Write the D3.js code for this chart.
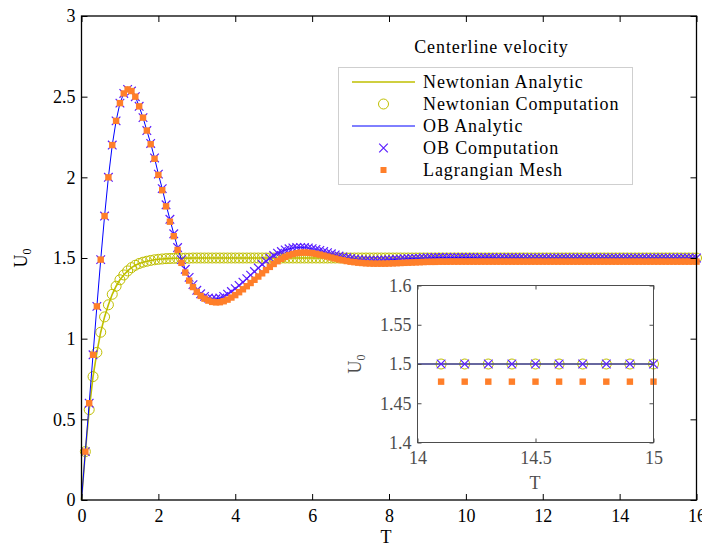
<!DOCTYPE html>
<html>
<head>
<meta charset="utf-8">
<script src="https://cdn.jsdelivr.net/npm/d3@7"></script>
<style>
  html, body { margin: 0; padding: 0; background: #fff; }
  svg { display: block; font-family: "Liberation Serif", serif; }
</style>
</head>
<body>
<svg id="chart" width="702" height="546"></svg>
<script>
// sample times of the computed runs, T = 0.1 ... 16.0
let tSamples = d3.range(1, 161).map(i => i / 10);

// centerline velocity (one row = 1 time unit)
let newtonian = [
  0.30, 0.56, 0.765, 0.915, 1.04, 1.135, 1.21, 1.275, 1.325, 1.365,
  1.395, 1.42, 1.44, 1.455, 1.466, 1.474, 1.48, 1.485, 1.489, 1.492,
  1.494, 1.496, 1.497, 1.498, 1.498, 1.499, 1.499, 1.499, 1.5, 1.5,
  1.5, 1.5, 1.5, 1.5, 1.5, 1.5, 1.5, 1.5, 1.5, 1.5,
  1.5, 1.5, 1.5, 1.5, 1.5, 1.5, 1.5, 1.5, 1.5, 1.5,
  1.5, 1.5, 1.5, 1.5, 1.5, 1.5, 1.5, 1.5, 1.5, 1.5,
  1.5, 1.5, 1.5, 1.5, 1.5, 1.5, 1.5, 1.5, 1.5, 1.5,
  1.5, 1.5, 1.5, 1.5, 1.5, 1.5, 1.5, 1.5, 1.5, 1.5,
  1.5, 1.5, 1.5, 1.5, 1.5, 1.5, 1.5, 1.5, 1.5, 1.5,
  1.5, 1.5, 1.5, 1.5, 1.5, 1.5, 1.5, 1.5, 1.5, 1.5,
  1.5, 1.5, 1.5, 1.5, 1.5, 1.5, 1.5, 1.5, 1.5, 1.5,
  1.5, 1.5, 1.5, 1.5, 1.5, 1.5, 1.5, 1.5, 1.5, 1.5,
  1.5, 1.5, 1.5, 1.5, 1.5, 1.5, 1.5, 1.5, 1.5, 1.5,
  1.5, 1.5, 1.5, 1.5, 1.5, 1.5, 1.5, 1.5, 1.5, 1.5,
  1.5, 1.5, 1.5, 1.5, 1.5, 1.5, 1.5, 1.5, 1.5, 1.5,
  1.5, 1.5, 1.5, 1.5, 1.5, 1.5, 1.5, 1.5, 1.5, 1.5
];

let ob = [
  0.30, 0.60, 0.90, 1.20, 1.49, 1.76, 2.00, 2.20, 2.35, 2.46,
  2.52, 2.545, 2.535, 2.50, 2.44, 2.37, 2.29, 2.21, 2.12, 2.02,
  1.93, 1.83, 1.74, 1.65, 1.565, 1.49, 1.43, 1.38, 1.335, 1.30,
  1.278, 1.262, 1.252, 1.247, 1.247, 1.252, 1.262, 1.276, 1.292, 1.31,
  1.33, 1.35, 1.372, 1.394, 1.416, 1.438, 1.46, 1.48, 1.50, 1.515,
  1.53, 1.54, 1.55, 1.557, 1.562, 1.565, 1.566, 1.565, 1.562, 1.558,
  1.553, 1.547, 1.54, 1.533, 1.526, 1.519, 1.512, 1.506, 1.501, 1.497,
  1.493, 1.49, 1.488, 1.487, 1.486, 1.486, 1.486, 1.487, 1.488, 1.489,
  1.49, 1.492, 1.493, 1.495, 1.496, 1.497, 1.498, 1.499, 1.5, 1.501,
  1.502, 1.503, 1.503, 1.503, 1.503, 1.503, 1.503, 1.503, 1.503, 1.503,
  1.503, 1.503, 1.502, 1.502, 1.502, 1.502, 1.502, 1.501, 1.501, 1.501,
  1.501, 1.501, 1.501, 1.501, 1.5, 1.5, 1.5, 1.5, 1.5, 1.5,
  1.5, 1.5, 1.5, 1.5, 1.5, 1.5, 1.5, 1.5, 1.5, 1.5,
  1.5, 1.5, 1.5, 1.5, 1.5, 1.5, 1.5, 1.5, 1.5, 1.5,
  1.5, 1.5, 1.5, 1.5, 1.5, 1.5, 1.5, 1.5, 1.5, 1.5,
  1.5, 1.5, 1.5, 1.5, 1.5, 1.5, 1.5, 1.5, 1.5, 1.5
];

let lagrangian = [
  0.30, 0.60, 0.90, 1.20, 1.49, 1.76, 2.00, 2.20, 2.35, 2.46,
  2.52, 2.545, 2.535, 2.50, 2.44, 2.37, 2.29, 2.205, 2.115, 2.015,
  1.92, 1.82, 1.725, 1.635, 1.55, 1.47, 1.41, 1.36, 1.32, 1.29,
  1.265, 1.248, 1.236, 1.228, 1.225, 1.226, 1.232, 1.242, 1.255, 1.27,
  1.288, 1.306, 1.325, 1.345, 1.365, 1.385, 1.405, 1.425, 1.445, 1.463,
  1.48, 1.495, 1.507, 1.517, 1.525, 1.53, 1.533, 1.534, 1.533, 1.53,
  1.526, 1.521, 1.515, 1.509, 1.503, 1.497, 1.491, 1.486, 1.481, 1.477,
  1.474, 1.471, 1.469, 1.467, 1.466, 1.465, 1.465, 1.465, 1.465, 1.466,
  1.467, 1.468, 1.469, 1.47, 1.471, 1.472, 1.473, 1.474, 1.475, 1.476,
  1.476, 1.476, 1.477, 1.477, 1.477, 1.4775, 1.4775, 1.4775, 1.4775, 1.4775,
  1.4775, 1.4775, 1.4775, 1.4775, 1.4775, 1.4775, 1.4775, 1.4775, 1.4775, 1.4775,
  1.4775, 1.4775, 1.4775, 1.4775, 1.4775, 1.4775, 1.4775, 1.4775, 1.4775, 1.4775,
  1.4775, 1.4775, 1.4775, 1.4775, 1.4775, 1.4775, 1.4775, 1.4775, 1.4775, 1.4775,
  1.4775, 1.4775, 1.4775, 1.4775, 1.4775, 1.4775, 1.4775, 1.4775, 1.4775, 1.4775,
  1.4775, 1.4775, 1.4775, 1.4775, 1.4775, 1.4775, 1.4775, 1.4775, 1.4775, 1.4775,
  1.4775, 1.4775, 1.4775, 1.4775, 1.4775, 1.4775, 1.4775, 1.4775, 1.4775, 1.4775
];

let xTicks = [0, 2, 4, 6, 8, 10, 12, 14, 16];
let yTicks = [0, 0.5, 1, 1.5, 2, 2.5, 3];
let insetXTicks = [14, 14.5, 15];
let insetYTicks = [1.4, 1.45, 1.5, 1.55, 1.6];

let legendTitle = 'Centerline velocity';
let legendLabels = ['Newtonian Analytic', 'Newtonian Computation', 'OB Analytic', 'OB Computation', 'Lagrangian Mesh'];

let colors = {newt: '#bfbf00', obLine: '#0000ff', obMark: '#5a1eff', lag: '#ff7f2a'};
let FONT = 18;

let svg = d3.select('#chart');

let rows = tSamples.map((t, i) => ({t: t, n: newtonian[i], ob: ob[i], lag: lagrangian[i]}));
// analytic curves start from rest
let lineRows = [{t: 0, n: 0, ob: 0, lag: 0}].concat(rows);

function xMark(sel, size) {
  return sel.append('path')
    .attr('d', `M${-size},${-size}L${size},${size}M${-size},${size}L${size},${-size}`)
    .attr('fill', 'none')
    .attr('stroke', colors.obMark)
    .attr('stroke-width', 1.2);
}

function drawSeries(g, sx, sy, lines, marks) {
  let lineN = d3.line().x(d => sx(d.t)).y(d => sy(d.n));
  let lineOB = d3.line().x(d => sx(d.t)).y(d => sy(d.ob));

  g.append('path').datum(lines)
    .attr('d', lineN).attr('fill', 'none')
    .attr('stroke', colors.newt).attr('stroke-width', 1.6);

  g.append('g').selectAll('circle')
    .data(marks).enter()
    .append('circle')
      .attr('cx', d => sx(d.t))
      .attr('cy', d => sy(d.n))
      .attr('r', 5)
      .attr('fill', 'none')
      .attr('stroke', colors.newt)
      .attr('stroke-width', 1);

  g.append('path').datum(lines)
    .attr('d', lineOB).attr('fill', 'none')
    .attr('stroke', colors.obLine).attr('stroke-width', 1);

  g.append('g').selectAll('g')
    .data(marks).enter()
    .append('g')
      .attr('transform', d => `translate(${sx(d.t)},${sy(d.ob)})`)
      .each(function() { xMark(d3.select(this), 4.3); });

  g.append('g').selectAll('rect')
    .data(marks).enter()
    .append('rect')
      .attr('x', d => sx(d.t) - 3.2)
      .attr('y', d => sy(d.lag) - 3.2)
      .attr('width', 6.4)
      .attr('height', 6.4)
      .attr('fill', colors.lag);
}

function drawAxes(g, sx, sy, xt, yt, tick, color, strokeW) {
  let x0 = sx.range()[0], x1 = sx.range()[1];
  let y0 = sy.range()[0], y1 = sy.range()[1];

  let bottom = g.append('g').attr('transform', `translate(0,${y0})`)
    .call(d3.axisBottom(sx).tickValues(xt).tickFormat(d => d).tickSize(-tick).tickPadding(9));
  let top = g.append('g').attr('transform', `translate(0,${y1})`)
    .call(d3.axisTop(sx).tickValues(xt).tickFormat('').tickSize(-tick));
  let left = g.append('g').attr('transform', `translate(${x0},0)`)
    .call(d3.axisLeft(sy).tickValues(yt).tickFormat(d => d).tickSize(-tick).tickPadding(6));
  let right = g.append('g').attr('transform', `translate(${x1},0)`)
    .call(d3.axisRight(sy).tickValues(yt).tickFormat('').tickSize(-tick));

  for (let a of [bottom, top, left, right]) {
    a.attr('font-family', null).attr('font-size', FONT);
    a.select('.domain').remove();
    a.selectAll('line').attr('stroke', color);
    a.selectAll('text').attr('fill', color);
  }

  g.append('rect')
    .attr('x', x0).attr('y', y1)
    .attr('width', x1 - x0).attr('height', y0 - y1)
    .attr('fill', 'none')
    .attr('stroke', color)
    .attr('stroke-width', strokeW);
}

function yLabel(g, x, y, color) {
  let t = g.append('text')
    .attr('transform', `translate(${x},${y}) rotate(-90)`)
    .attr('text-anchor', 'middle')
    .attr('font-size', FONT)
    .attr('fill', color);
  t.append('tspan').text('U');
  t.append('tspan').attr('font-size', 12).attr('dy', 4).text('0');
}

// ---- main plot
let sx = d3.scaleLinear().domain([0, 16]).range([81.5, 696.5]);
let sy = d3.scaleLinear().domain([0, 3]).range([500, 16]);

let main = svg.append('g');
drawSeries(main, sx, sy, lineRows, rows);
drawAxes(main, sx, sy, xTicks, yTicks, 6, '#000', 1.3);

main.append('text')
  .attr('x', 386).attr('y', 543)
  .attr('text-anchor', 'middle')
  .attr('font-size', FONT)
  .text('T');
yLabel(main, 27, 258, '#000');

// ---- legend
let lg = svg.append('g').attr('letter-spacing', 0.9);
lg.append('text')
  .attr('x', 491.5).attr('y', 53)
  .attr('text-anchor', 'middle')
  .attr('font-size', FONT)
  .text(legendTitle);

lg.append('rect')
  .attr('x', 338.5).attr('y', 67.5)
  .attr('width', 294).attr('height', 117)
  .attr('fill', '#fff')
  .attr('stroke', '#cfcfcf')
  .attr('stroke-width', 1);

let entry = lg.selectAll('.entry')
  .data(legendLabels).enter()
  .append('g')
    .attr('class', 'entry')
    .attr('transform', (d, i) => `translate(0,${82 + i * 22})`);

entry.append('text')
  .attr('x', 423).attr('y', 5.7)
  .attr('font-size', FONT)
  .text(d => d);

entry.filter((d, i) => i === 0 || i === 2)
  .append('line')
    .attr('x1', 352).attr('x2', 415)
    .attr('stroke', (d, i) => i === 0 ? colors.newt : colors.obLine)
    .attr('stroke-width', (d, i) => i === 0 ? 1.6 : 1);

entry.filter((d, i) => i === 1)
  .append('circle')
    .attr('cx', 383.5).attr('r', 5)
    .attr('fill', 'none').attr('stroke', colors.newt);

entry.filter((d, i) => i === 3)
  .append('g').attr('transform', 'translate(383.5,0)')
  .each(function() { xMark(d3.select(this), 4.3); });

entry.filter((d, i) => i === 4)
  .append('rect')
    .attr('x', 380.5).attr('y', -3)
    .attr('width', 6).attr('height', 6)
    .attr('fill', colors.lag);

// ---- inset, zoom on the steady state
let ix = d3.scaleLinear().domain([14, 15]).range([417.5, 653.5]);
let iy = d3.scaleLinear().domain([1.4, 1.6]).range([442.5, 285.5]);
let inset = svg.append('g');
let insetGray = '#4d4d4d';

inset.append('rect')
  .attr('x', 417.5).attr('y', 285.5)
  .attr('width', 236).attr('height', 157)
  .attr('fill', '#fff');

drawSeries(inset, ix, iy,
  rows.filter(d => d.t >= 13.99 && d.t <= 15.01),
  rows.filter(d => d.t > 14.01 && d.t <= 15.01));
drawAxes(inset, ix, iy, insetXTicks, insetYTicks, 4, insetGray, 1);

inset.append('text')
  .attr('x', 535).attr('y', 489)
  .attr('text-anchor', 'middle')
  .attr('font-size', FONT)
  .attr('fill', insetGray)
  .text('T');
yLabel(inset, 361, 364, insetGray);
</script>
</body>
</html>
